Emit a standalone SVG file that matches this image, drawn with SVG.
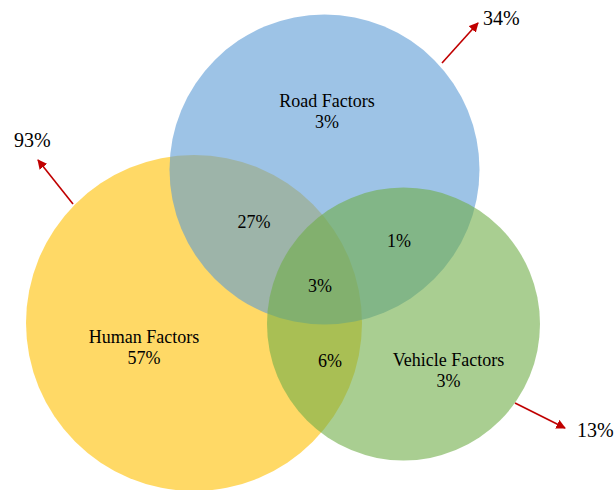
<svg xmlns="http://www.w3.org/2000/svg" width="614" height="490" viewBox="0 0 614 490">
  <defs>
    <marker id="arrowhead" viewBox="0 0 10 10" refX="9" refY="5" markerWidth="6" markerHeight="6" markerUnits="strokeWidth" orient="auto">
      <path d="M0,0 L10,5 L0,10 z" fill="#C00000"/>
    </marker>
  </defs>
  <style>
    .set { opacity: 0.6; }
    .lbl { font-size: 18px; fill: #000; text-anchor: middle; }
    .out { font-size: 20px; fill: #000; }
    .arrow { stroke: #C00000; stroke-width: 1.6; fill: none; marker-end: url(#arrowhead); }
  </style>
  <rect width="614" height="490" fill="#ffffff"/>

  <!-- set circles, stacked human / road / vehicle -->
  <g id="human-factors">
    <circle class="set" cx="194" cy="323" r="168" fill="#FFC000"/>
  </g>
  <g id="road-factors">
    <circle class="set" cx="324.5" cy="169.5" r="155" fill="#5B9BD5"/>
  </g>
  <g id="vehicle-factors">
    <circle class="set" cx="403.5" cy="324" r="136.5" fill="#70AD47"/>
  </g>

  <!-- region labels -->
  <g id="labels" font-family="Liberation Serif, DejaVu Serif, serif">
    <text class="lbl" x="327" y="107">Road Factors</text>
    <text class="lbl" x="327" y="128">3%</text>
    <text class="lbl" x="144" y="343">Human Factors</text>
    <text class="lbl" x="144" y="364">57%</text>
    <text class="lbl" x="448.5" y="366">Vehicle Factors</text>
    <text class="lbl" x="448.5" y="387">3%</text>
    <text class="lbl" x="254" y="228">27%</text>
    <text class="lbl" x="399" y="247">1%</text>
    <text class="lbl" x="320" y="292">3%</text>
    <text class="lbl" x="330" y="367">6%</text>
  </g>

  <!-- totals pointing out of each set -->
  <g id="connectors">
    <line class="arrow" x1="73" y1="204" x2="38" y2="160"/>
    <line class="arrow" x1="442" y1="63" x2="478" y2="23"/>
    <line class="arrow" x1="515" y1="403" x2="565" y2="428"/>
  </g>
  <g id="totals" font-family="Liberation Serif, DejaVu Serif, serif">
    <text class="out" x="14" y="147">93%</text>
    <text class="out" x="483" y="25">34%</text>
    <text class="out" x="577" y="437">13%</text>
  </g>
</svg>
